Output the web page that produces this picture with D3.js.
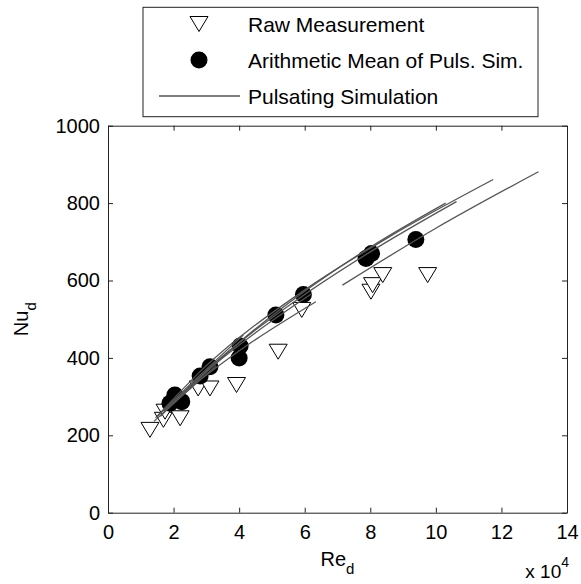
<!DOCTYPE html>
<html>
<head>
<meta charset="utf-8">
<script src="https://cdn.jsdelivr.net/npm/d3@7/dist/d3.min.js"></script>
<style>
  html, body { margin: 0; padding: 0; background: #fff; }
  svg { display: block; font-family: 'Liberation Sans', Arial, sans-serif; }
  .axis path, .axis line { stroke: #222; }
  .axis text { fill: #000; font-size: 20px; font-family: 'Liberation Sans', Arial, sans-serif; }
</style>
</head>
<body>
<svg id="chart" width="581" height="584"></svg>
<script>
// Re_d values are in units of 1e4
const rawRe = [1.28, 1.69, 1.74, 2.20, 2.75, 3.11, 3.92, 5.19, 5.91, 8.02, 8.07, 8.38, 9.75]
const rawNu = [214, 240, 261, 244, 321, 321, 330, 416, 524, 571, 588, 614, 614]

const meanRe = [1.89, 2.04, 2.25, 2.81, 3.11, 4.00, 4.03, 5.12, 5.96, 7.87, 8.04, 9.39]
const meanNu = [283, 304, 287, 353, 377, 400, 431, 511, 564, 657, 670, 706]

// each pulsating simulation run, as [Re, Nu] points
const simRuns = [
  [[1.45, 245], [3.0, 380], [5.85, 567], [8.5, 709], [11.75, 861]],
  [[1.6, 249], [3.0, 367], [5.85, 555], [8.0, 674], [10.63, 804]],
  [[2.0, 283], [4.0, 440], [6.0, 572], [8.0, 686], [10.3, 800]],
  [[7.15, 588], [10.0, 735], [13.13, 881]],
  [[2.4, 317], [4.2, 430], [6.34, 545]],
  [[1.5, 248], [2.8, 355], [4.13, 459]],
  [[1.7, 262], [3.0, 365], [4.5, 465], [6.2, 565]],
  [[1.4, 236], [2.3, 305], [3.3, 380]]
]

const xTicks = [0, 2, 4, 6, 8, 10, 12, 14]
const yTicks = [0, 200, 400, 600, 800, 1000]

const legendLabels = ['Raw Measurement', 'Arithmetic Mean of Puls. Sim.', 'Pulsating Simulation']

const plot = { left: 108, right: 567, top: 125.7, bottom: 512.7 }
const lineColor = '#555'

const svg = d3.select('#chart')

const x = d3.scaleLinear().domain([0, 14]).range([plot.left, plot.right])
const y = d3.scaleLinear().domain([0, 1000]).range([plot.bottom, plot.top])

const triangle = 'M-9,-7.5L9,-7.5L0,7.5Z'

renderAxes()
renderData()
renderLabels()
renderLegend()

function renderAxes () {
  svg.append('g')
    .attr('class', 'axis')
    .attr('transform', `translate(0,${plot.bottom})`)
    .call(d3.axisBottom(x).tickValues(xTicks).tickFormat(d3.format('d')).tickSizeInner(-5).tickSizeOuter(0).tickPadding(12))

  svg.append('g')
    .attr('class', 'axis')
    .attr('transform', `translate(${plot.left},0)`)
    .call(d3.axisLeft(y).tickValues(yTicks).tickFormat(d3.format('d')).tickSizeInner(-5).tickSizeOuter(0).tickPadding(8))

  svg.append('g')
    .attr('class', 'axis')
    .attr('transform', `translate(0,${plot.top})`)
    .call(d3.axisTop(x).tickValues(xTicks).tickSizeInner(-5).tickSizeOuter(0).tickFormat(''))

  svg.append('g')
    .attr('class', 'axis')
    .attr('transform', `translate(${plot.right},0)`)
    .call(d3.axisRight(y).tickValues(yTicks).tickSizeInner(-5).tickSizeOuter(0).tickFormat(''))
}

function renderData () {
  const raw = rawRe.map((re, i) => ({ re, nu: rawNu[i] }))
  const mean = meanRe.map((re, i) => ({ re, nu: meanNu[i] }))

  svg.append('g')
    .selectAll('path')
    .data(raw)
    .enter()
    .append('path')
    .attr('d', triangle)
    .attr('transform', d => `translate(${x(d.re)},${y(d.nu)})`)
    .attr('fill', '#fff')
    .attr('stroke', '#000')
    .attr('stroke-width', 1)

  svg.append('g')
    .selectAll('circle')
    .data(mean)
    .enter()
    .append('circle')
    .attr('cx', d => x(d.re))
    .attr('cy', d => y(d.nu))
    .attr('r', 8.5)
    .attr('fill', '#000')

  const line = d3.line()
    .x(d => x(d[0]))
    .y(d => y(d[1]))
    .curve(d3.curveMonotoneX)

  svg.append('g')
    .selectAll('path')
    .data(simRuns)
    .enter()
    .append('path')
    .attr('d', line)
    .attr('fill', 'none')
    .attr('stroke', lineColor)
    .attr('stroke-width', 1.3)
}

function renderLabels () {
  const xLabel = svg.append('text')
    .attr('x', (plot.left + plot.right) / 2)
    .attr('y', 566)
    .attr('text-anchor', 'middle')
    .attr('font-size', 20)
  xLabel.append('tspan').text('Re')
  xLabel.append('tspan').attr('dy', 8).attr('font-size', 15).text('d')

  const yLabel = svg.append('text')
    .attr('transform', `translate(28,${(plot.top + plot.bottom) / 2}) rotate(-90)`)
    .attr('text-anchor', 'middle')
    .attr('font-size', 20)
  yLabel.append('tspan').text('Nu')
  yLabel.append('tspan').attr('dy', 8).attr('font-size', 15).text('d')

  const exponent = svg.append('text')
    .attr('x', plot.right + 2)
    .attr('y', 578)
    .attr('text-anchor', 'end')
    .attr('font-size', 19)
  exponent.append('tspan').text('x 10')
  exponent.append('tspan').attr('dy', -11).attr('font-size', 14).text('4')
}

function renderLegend () {
  const box = { left: 143, top: 7.3, right: 538, bottom: 116.7 }
  const rowY = [24, 60, 96]
  const legend = svg.append('g')

  legend.append('rect')
    .attr('x', box.left)
    .attr('y', box.top)
    .attr('width', box.right - box.left)
    .attr('height', box.bottom - box.top)
    .attr('fill', '#fff')
    .attr('stroke', '#222')
    .attr('stroke-width', 1)

  legend.append('path')
    .attr('d', triangle)
    .attr('transform', `translate(199,${rowY[0]})`)
    .attr('fill', '#fff')
    .attr('stroke', '#000')

  legend.append('circle')
    .attr('cx', 199)
    .attr('cy', rowY[1])
    .attr('r', 8.5)
    .attr('fill', '#000')

  legend.append('line')
    .attr('x1', 159)
    .attr('x2', 240)
    .attr('y1', rowY[2])
    .attr('y2', rowY[2])
    .attr('stroke', lineColor)
    .attr('stroke-width', 1.3)

  legend.selectAll('text')
    .data(legendLabels)
    .enter()
    .append('text')
    .attr('x', 248)
    .attr('y', (d, i) => rowY[i])
    .attr('dy', '0.36em')
    .attr('font-size', 21)
    .text(d => d)
}
</script>
</body>
</html>
